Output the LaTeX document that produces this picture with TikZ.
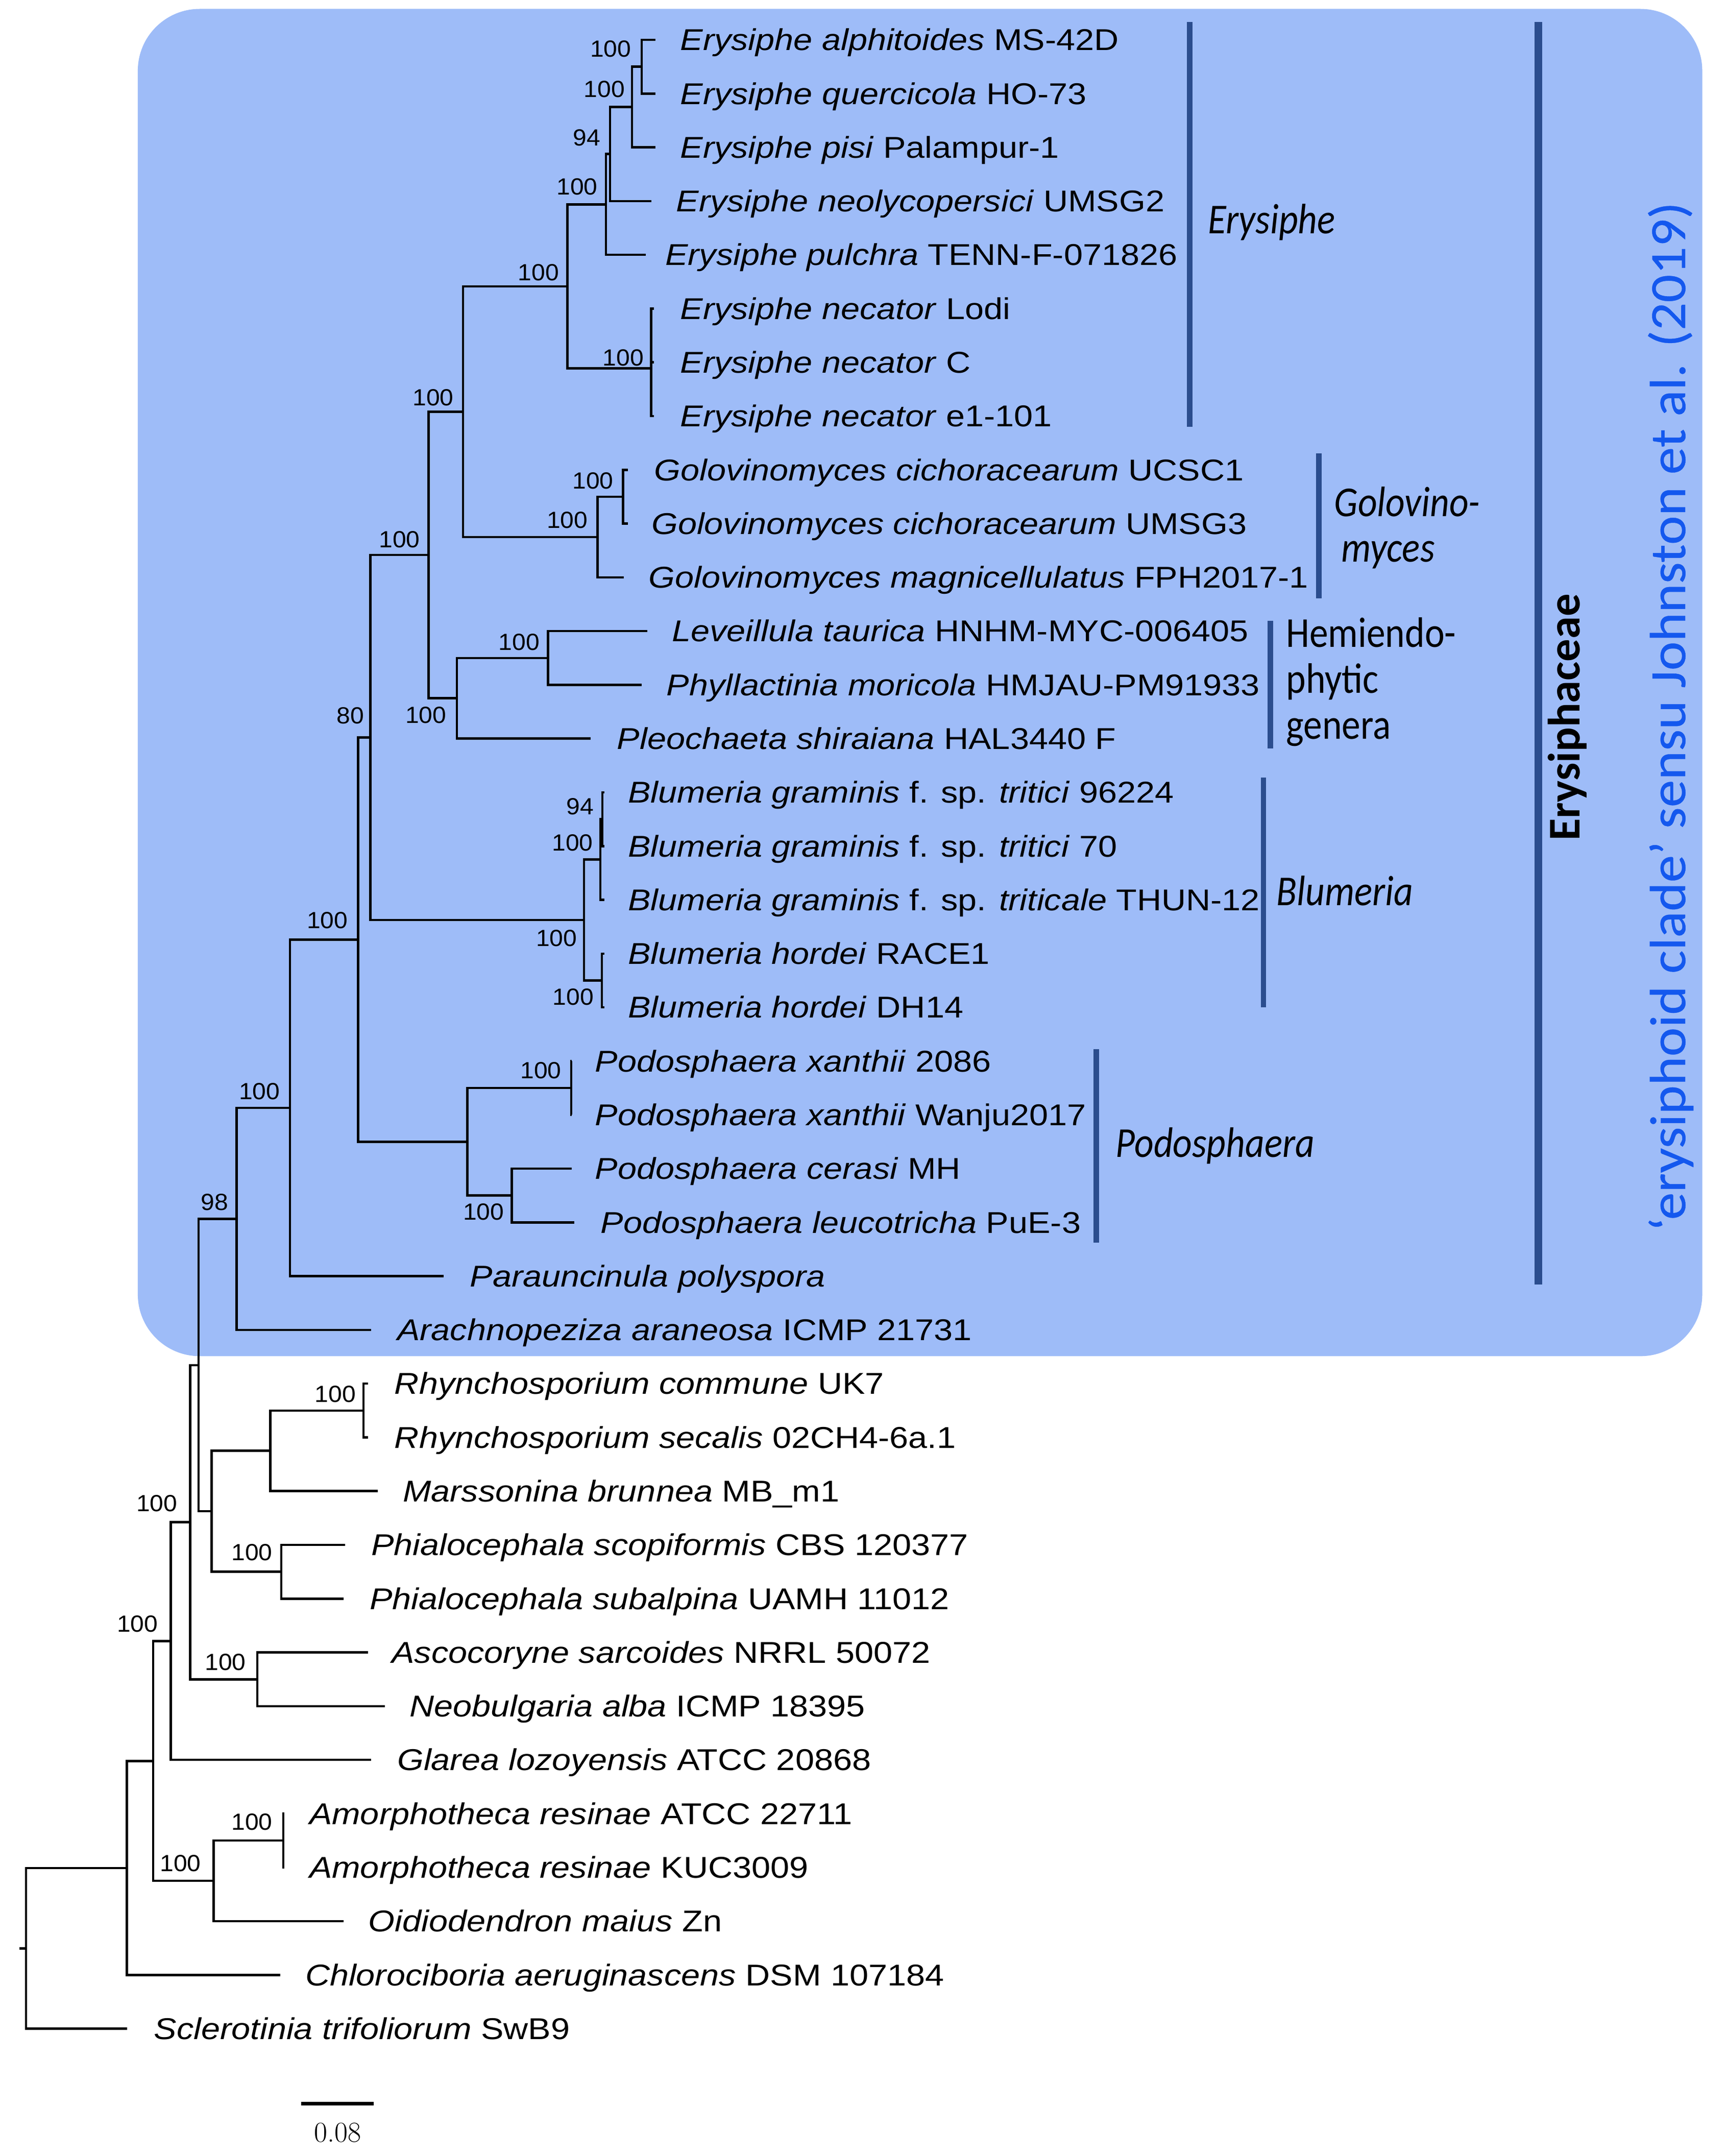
\documentclass[tikz,border=0pt]{standalone}
\usepackage{fontspec}
\newfontfamily\taxf[FakeStretch=1.13]{Liberation Sans}
\newfontfamily\bootf[FakeStretch=1.05]{Liberation Sans}
\newfontfamily\cladef[FakeStretch=0.88]{Carlito}
\newfontfamily\famf{Carlito}
\newfontfamily\bluef[FakeStretch=1.083,FakeBold=0.4]{Carlito}
\definecolor{boxblue}{HTML}{9EBCF8}
\definecolor{bardark}{HTML}{2B4D8E}
\definecolor{textblue}{HTML}{1458EE}
\tikzset{
  br/.style={line width=1.7pt, line join=miter},
  tax/.style={anchor=base west, inner sep=0pt, font=\taxf\fontsize{21.9}{22}\selectfont},
  boot/.style={anchor=center, inner sep=0pt, font=\bootf\fontsize{17}{17}\selectfont},
  clade/.style={anchor=base west, inner sep=0pt, font=\cladef\fontsize{31}{31}\selectfont},
  cbar/.style={line width=4pt, draw=bardark},
}
\newcommand\tbranch[3]{\draw[br] (#1) |- (#2); \draw[br] (#1) |- (#3);}
\begin{document}
\begin{tikzpicture}[x=1pt,y=-1pt]
\useasboundingbox (0,0) rectangle (1257,1569.14);
\fill[white] (0,0) rectangle (1257,1569.14);
\fill[boxblue, rounded corners=45pt] (100.3,6.5) rectangle (1239,987);

% leaf tips
\coordinate (t1) at (477,29.00);
\coordinate (t2) at (477,68.12);
\coordinate (t3) at (477,107.24);
\coordinate (t4) at (474,146.36);
\coordinate (t5) at (470,185.48);
\coordinate (t6) at (476,224.60);
\coordinate (t7) at (476,263.72);
\coordinate (t8) at (476,302.84);
\coordinate (t9) at (457,341.96);
\coordinate (t10) at (457,381.08);
\coordinate (t11) at (454,420.20);
\coordinate (t12) at (471,459.32);
\coordinate (t13) at (467,498.44);
\coordinate (t14) at (430,537.56);
\coordinate (t15) at (440,576.68);
\coordinate (t16) at (440,615.80);
\coordinate (t17) at (440,654.92);
\coordinate (t18) at (440,694.04);
\coordinate (t19) at (440,733.16);
\coordinate (t20) at (416,772.28);
\coordinate (t21) at (416,811.40);
\coordinate (t22) at (416,850.52);
\coordinate (t23) at (418,889.64);
\coordinate (t24) at (323,928.76);
\coordinate (t25) at (270,967.88);
\coordinate (t26) at (268,1007.00);
\coordinate (t27) at (268,1046.12);
\coordinate (t28) at (275,1085.24);
\coordinate (t29) at (251,1124.36);
\coordinate (t30) at (250,1163.48);
\coordinate (t31) at (268,1202.60);
\coordinate (t32) at (280,1241.72);
\coordinate (t33) at (270,1280.84);
\coordinate (t34) at (207,1319.96);
\coordinate (t35) at (207,1359.08);
\coordinate (t36) at (250,1398.20);
\coordinate (t37) at (204,1437.32);
\coordinate (t38) at (92.4,1476.44);

% internal nodes
\coordinate (nAQ) at (467,48.56);
\coordinate (nAQP) at (460,77.9);
\coordinate (n94) at (444,112.1);
\coordinate (nEb) at (441,148.8);
\coordinate (nNec) at (474,268);
\coordinate (nEry) at (413,208.4);
\coordinate (nGc) at (453.4,361.5);
\coordinate (nGol) at (435,390.9);
\coordinate (nEG) at (337,299.6);
\coordinate (nLP) at (398.8,478.9);
\coordinate (nHem) at (332.6,508.2);
\coordinate (nEGH) at (312,403.9);
\coordinate (nB94) at (438.5,596.2);
\coordinate (nBg) at (437,625.6);
\coordinate (nBh) at (438,713.6);
\coordinate (nBlu) at (425,669.6);
\coordinate (nEGHB) at (269.6,536.8);
\coordinate (nPx) at (415.8,791.8);
\coordinate (nPcl) at (372.6,870.1);
\coordinate (nPod) at (340.2,831.0);
\coordinate (n80) at (260.7,683.9);
\coordinate (nPar) at (211,806.3);
\coordinate (n98) at (172.3,887.1);
\coordinate (nRh) at (264.5,1026.6);
\coordinate (nRM) at (196.7,1055.9);
\coordinate (nPh) at (204.8,1143.9);
\coordinate (nY) at (154,1099.9);
\coordinate (nX) at (144.6,993.5);
\coordinate (nAN) at (187.2,1222.2);
\coordinate (nZ) at (138.4,1107.9);
\coordinate (nW) at (124.2,1194.4);
\coordinate (nAm) at (206.2,1339.5);
\coordinate (nAO) at (155.5,1368.9);
\coordinate (nV) at (111.4,1281.7);
\coordinate (nU) at (92.4,1359.5);
\coordinate (root) at (19,1418);
\coordinate (rootstub) at (14,1418);

% branches
\tbranch{nAQ}{t1}{t2}
\tbranch{nAQP}{nAQ}{t3}
\tbranch{n94}{nAQP}{t4}
\tbranch{nEb}{n94}{t5}
\tbranch{nNec}{t6}{t8}
\draw[br] (nNec) |- (t7);
\tbranch{nEry}{nEb}{nNec}
\tbranch{nGc}{t9}{t10}
\tbranch{nGol}{nGc}{t11}
\tbranch{nEG}{nEry}{nGol}
\tbranch{nLP}{t12}{t13}
\tbranch{nHem}{nLP}{t14}
\tbranch{nEGH}{nEG}{nHem}
\tbranch{nB94}{t15}{t16}
\tbranch{nBg}{nB94}{t17}
\tbranch{nBh}{t18}{t19}
\tbranch{nBlu}{nBg}{nBh}
\tbranch{nEGHB}{nEGH}{nBlu}
\tbranch{nPx}{t20}{t21}
\tbranch{nPcl}{t22}{t23}
\tbranch{nPod}{nPx}{nPcl}
\tbranch{n80}{nEGHB}{nPod}
\tbranch{nPar}{n80}{t24}
\tbranch{n98}{nPar}{t25}
\tbranch{nRh}{t26}{t27}
\tbranch{nRM}{nRh}{t28}
\tbranch{nPh}{t29}{t30}
\tbranch{nY}{nRM}{nPh}
\tbranch{nX}{n98}{nY}
\tbranch{nAN}{t31}{t32}
\tbranch{nZ}{nX}{nAN}
\tbranch{nW}{nZ}{t33}
\tbranch{nAm}{t34}{t35}
\tbranch{nAO}{nAm}{t36}
\tbranch{nV}{nW}{nAO}
\tbranch{nU}{nV}{t37}
\tbranch{root}{nU}{t38}
\draw[br] (rootstub) -- (root);

% taxon labels
\node[tax] (L1) at (495,36.70) {\textit{Erysiphe alphitoides} MS-42D};
\node[tax] (L2) at (495,75.82) {\textit{Erysiphe quercicola} HO-73};
\node[tax] (L3) at (495,114.94) {\textit{Erysiphe pisi} Palampur-1};
\node[tax] (L4) at (492,154.06) {\textit{Erysiphe neolycopersici} UMSG2};
\node[tax] (L5) at (484,193.18) {\textit{Erysiphe pulchra} TENN-F-071826};
\node[tax] (L6) at (495,232.30) {\textit{Erysiphe necator} Lodi};
\node[tax] (L7) at (495,271.42) {\textit{Erysiphe necator} C};
\node[tax] (L8) at (495,310.54) {\textit{Erysiphe necator} e1-101};
\node[tax] (L9) at (476,349.66) {\textit{Golovinomyces cichoracearum} UCSC1};
\node[tax] (L10) at (474,388.78) {\textit{Golovinomyces cichoracearum} UMSG3};
\node[tax] (L11) at (472,427.90) {\textit{Golovinomyces magnicellulatus} FPH2017-1};
\node[tax] (L12) at (489,467.02) {\textit{Leveillula taurica} HNHM-MYC-006405};
\node[tax] (L13) at (485,506.14) {\textit{Phyllactinia moricola} HMJAU-PM91933};
\node[tax] (L14) at (449,545.26) {\textit{Pleochaeta shiraiana} HAL3440 F};
\node[tax] (L15) at (457,584.38) {\textit{Blumeria graminis} f. sp. \textit{tritici} 96224};
\node[tax] (L16) at (457,623.50) {\textit{Blumeria graminis} f. sp. \textit{tritici} 70};
\node[tax] (L17) at (457,662.62) {\textit{Blumeria graminis} f. sp. \textit{triticale} THUN-12};
\node[tax] (L18) at (457,701.74) {\textit{Blumeria hordei} RACE1};
\node[tax] (L19) at (457,740.86) {\textit{Blumeria hordei} DH14};
\node[tax] (L20) at (433,779.98) {\textit{Podosphaera xanthii} 2086};
\node[tax] (L21) at (433,819.10) {\textit{Podosphaera xanthii} Wanju2017};
\node[tax] (L22) at (433,858.22) {\textit{Podosphaera cerasi} MH};
\node[tax] (L23) at (437,897.34) {\textit{Podosphaera leucotricha} PuE-3};
\node[tax] (L24) at (342,936.46) {\textit{Parauncinula polyspora}};
\node[tax] (L25) at (289,975.58) {\textit{Arachnopeziza araneosa} ICMP 21731};
\node[tax] (L26) at (287,1014.70) {\textit{Rhynchosporium commune} UK7};
\node[tax] (L27) at (287,1053.82) {\textit{Rhynchosporium secalis} 02CH4-6a.1};
\node[tax] (L28) at (293,1092.94) {\textit{Marssonina brunnea} MB\_m1};
\node[tax] (L29) at (270,1132.06) {\textit{Phialocephala scopiformis} CBS 120377};
\node[tax] (L30) at (269,1171.18) {\textit{Phialocephala subalpina} UAMH 11012};
\node[tax] (L31) at (285,1210.30) {\textit{Ascocoryne sarcoides} NRRL 50072};
\node[tax] (L32) at (298,1249.42) {\textit{Neobulgaria alba} ICMP 18395};
\node[tax] (L33) at (289,1288.54) {\textit{Glarea lozoyensis} ATCC 20868};
\node[tax] (L34) at (225,1327.66) {\textit{Amorphotheca resinae} ATCC 22711};
\node[tax] (L35) at (225,1366.78) {\textit{Amorphotheca resinae} KUC3009};
\node[tax] (L36) at (268,1405.90) {\textit{Oidiodendron maius} Zn};
\node[tax] (L37) at (222,1445.02) {\textit{Chlorociboria aeruginascens} DSM 107184};
\node[tax] (L38) at (112,1484.14) {\textit{Sclerotinia trifoliorum} SwB9};

% bootstrap values
\node[boot] (bAQ) at (444.5,35.7) {100};
\node[boot] (bAQP) at (439.9,65.1) {100};
\node[boot] (b94a) at (427,100.3) {94};
\node[boot] (bEb) at (420.1,135.9) {100};
\node[boot] (bEry) at (391.9,198.4) {100};
\node[boot] (bNec) at (453.6,260.2) {100};
\node[boot] (bEG) at (315.3,289.5) {100};
\node[boot] (bGc) at (431.6,350) {100};
\node[boot] (bGol) at (412.9,378.6) {100};
\node[boot] (bEGH) at (290.8,392.7) {100};
\node[boot] (bLP) at (377.9,467.3) {100};
\node[boot] (bHem) at (310,520.6) {100};
\node[boot] (bB94) at (422.3,586.8) {94};
\node[boot] (bBg) at (416.7,613.4) {100};
\node[boot] (bBlu) at (405.1,683) {100};
\node[boot] (bBh) at (417.2,725.7) {100};
\node[boot] (bEGHB) at (255,521) {80};
\node[boot] (b80) at (238.3,670) {100};
\node[boot] (bPx) at (393.7,779) {100};
\node[boot] (bPcl) at (352,882.1) {100};
\node[boot] (bPar) at (188.8,794.4) {100};
\node[boot] (b98) at (156.2,874.9) {98};
\node[boot] (bRh) at (244.1,1014.8) {100};
\node[boot] (bZ) at (114.2,1094.2) {100};
\node[boot] (bPh) at (183.4,1129.7) {100};
\node[boot] (bW) at (100,1181.9) {100};
\node[boot] (bAN) at (164,1209.6) {100};
\node[boot] (bAm) at (183.4,1326) {100};
\node[boot] (bAO) at (131.3,1356.2) {100};

% clade bars
\coordinate (eryT) at (866,16);   \coordinate (eryB) at (866,310.7);
\coordinate (golT) at (960,330);  \coordinate (golB) at (960,435.6);
\coordinate (hemT) at (924.5,451.7); \coordinate (hemB) at (924.5,544.6);
\coordinate (bluT) at (919.6,566); \coordinate (bluB) at (919.6,733);
\coordinate (podT) at (797.8,763.7); \coordinate (podB) at (797.8,904.5);
\coordinate (famT) at (1119.7,16); \coordinate (famB) at (1119.7,935);
\draw[cbar] (eryT) -- (eryB);
\draw[cbar] (golT) -- (golB);
\draw[cbar] (hemT) -- (hemB);
\draw[cbar] (bluT) -- (bluB);
\draw[cbar] (podT) -- (podB);
\draw[cbar, line width=5.5pt] (famT) -- (famB);

\node[clade] (cEry) at (879,170) {\itshape Erysiphe};
\node[clade] (cGol1) at (971,376) {\itshape Golovino-};
\node[clade] (cGol2) at (976,409) {\itshape myces};
\node[clade] (cHem1) at (936,471) {Hemiendo-};
\node[clade] (cHem2) at (936,504.5) {phytic};
\node[clade] (cHem3) at (936,538) {genera};
\node[clade] (cBlu) at (929,659) {\itshape Blumeria};
\node[clade] (cPod) at (812,842) {\itshape Podosphaera};

\node[rotate=90, inner sep=0pt, font=\famf\bfseries\fontsize{33}{33}\selectfont] (fam) at (1141,522) {Erysiphaceae};
\node[rotate=90, inner sep=0pt, text=textblue, font=\bluef\fontsize{37}{37}\selectfont] (sensu) at (1216,521.5) {‘erysiphoid clade’ sensu Johnston et al. (2019)};

% scale bar
\coordinate (sbL) at (219.3,1531);
\coordinate (sbR) at (271.9,1531);
\draw[line width=2.5pt] (sbL) -- (sbR);
\node[inner sep=0pt, font=\fontsize{21}{21}\selectfont] (sbT) at (245.9,1552) {0.08};
\end{tikzpicture}
\end{document}
